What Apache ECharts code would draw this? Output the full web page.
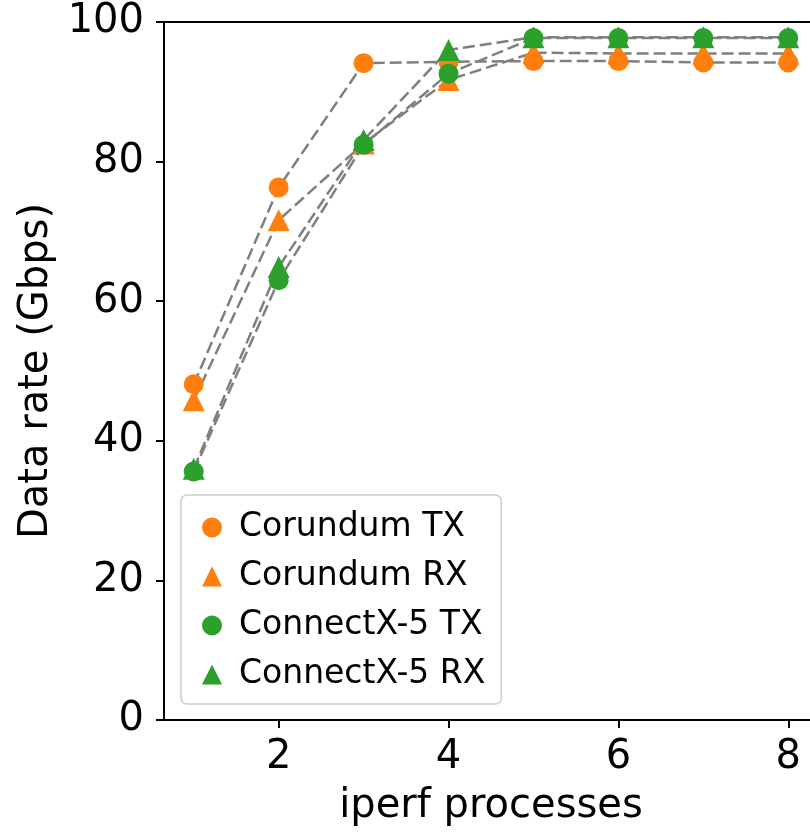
<!DOCTYPE html>
<html>
<head>
<meta charset="utf-8">
<script src="https://cdn.jsdelivr.net/npm/echarts@6/dist/echarts.min.js"></script>
<style>
html,body{margin:0;padding:0;background:#fff;}
#chart{width:810px;height:832px;}
</style>
</head>
<body>
<div id="chart"></div>
<script>
// Data
var processes = [1, 2, 3, 4, 5, 6, 7, 8];
var corundumTX = [48.1, 76.3, 94.1, 94.3, 94.4, 94.4, 94.2, 94.2];
var corundumRX = [45.8, 71.6, 82.6, 91.7, 95.6, 95.5, 95.5, 95.5];
var connectxTX = [35.6, 63.0, 82.4, 92.6, 97.7, 97.7, 97.7, 97.7];
var connectxRX = [36.0, 64.9, 83.1, 96.0, 97.8, 97.8, 97.8, 97.8];
var xTicks = [2, 4, 6, 8];
var yTicks = [0, 20, 40, 60, 80, 100];

var ORANGE = '#ff7f0e', GREEN = '#2ca02c', GRAY = '#7f7f7f';
var FONT = 'DejaVu Sans';

function pairs(vals) { return processes.map(function (x, i) { return [x, vals[i]]; }); }

var defs = [
  { name: 'Corundum RX', data: corundumRX, color: ORANGE, symbol: 'triangle', size: 22 },
  { name: 'Corundum TX', data: corundumTX, color: ORANGE, symbol: 'circle', size: 20 },
  { name: 'ConnectX-5 RX', data: connectxRX, color: GREEN, symbol: 'triangle', size: 22 },
  { name: 'ConnectX-5 TX', data: connectxTX, color: GREEN, symbol: 'circle', size: 20 }
];

var series = [];
defs.forEach(function (d, i) {
  series.push({
    type: 'line', name: d.name + ' line', data: pairs(d.data),
    showSymbol: false, symbol: 'none', silent: true, z: 2 + i * 2,
    lineStyle: { color: GRAY, width: 2.5, type: [12, 5] }, animation: false
  });
  series.push({
    type: 'scatter', name: d.name, data: pairs(d.data),
    symbol: d.symbol, symbolSize: d.size, z: 3 + i * 2,
    itemStyle: { color: d.color, opacity: 1 }, animation: false
  });
});

var chart = echarts.init(document.getElementById('chart'), null, { renderer: 'canvas' });
chart.setOption({
  animation: false,
  backgroundColor: '#fff',
  grid: { left: 164, top: 22, width: 654, height: 698, outerBoundsMode: 'none', containLabel: false,
          show: true, borderColor: '#000', borderWidth: 2, backgroundColor: 'transparent' },
  legend: {
    data: ['Corundum TX', 'Corundum RX', 'ConnectX-5 TX', 'ConnectX-5 RX'],
    orient: 'vertical', left: 181, top: 495,
    padding: [16, 16, 13, 21],
    itemWidth: 20, itemHeight: 20, itemGap: 16,
    backgroundColor: 'rgba(255,255,255,0.8)',
    borderColor: '#cccccc', borderWidth: 1.5, borderRadius: 6,
    textStyle: { fontFamily: FONT, fontSize: 33, color: '#000', padding: [0, 0, 0, 12] }
  },
  xAxis: {
    type: 'value', min: 0.65, max: 8.35,
    name: 'iperf processes', nameLocation: 'middle', nameGap: 67,
    nameTextStyle: { fontFamily: FONT, fontSize: 40, color: '#000' },
    axisLine: { show: true, onZero: false, lineStyle: { color: '#000', width: 2 } },
    axisTick: { show: true, length: 8, customValues: xTicks, lineStyle: { color: '#000', width: 2 } },
    axisLabel: { margin: 18, customValues: xTicks, fontFamily: FONT, fontSize: 40, color: '#000' },
    splitLine: { show: false }
  },
  yAxis: {
    type: 'value', min: 0, max: 100, interval: 20,
    name: 'Data rate (Gbps)', nameLocation: 'middle', nameGap: 106,
    nameTextStyle: { fontFamily: FONT, fontSize: 40, color: '#000' },
    axisLine: { show: true, lineStyle: { color: '#000', width: 2 } },
    axisTick: { show: true, length: 8, lineStyle: { color: '#000', width: 2 } },
    axisLabel: { margin: 20, fontFamily: FONT, fontSize: 40, color: '#000' },
    splitLine: { show: false }
  },
  series: series
});
</script>
</body>
</html>
